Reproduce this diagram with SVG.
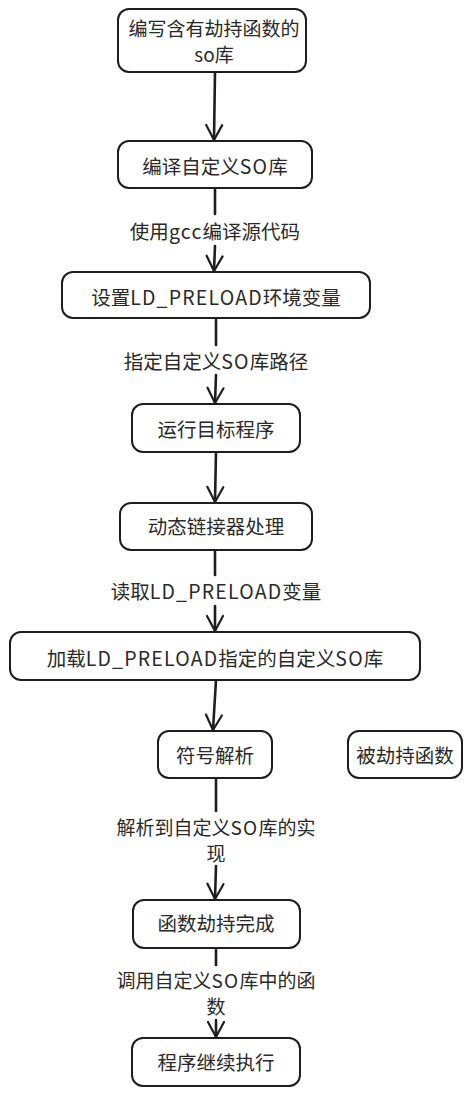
<svg xmlns="http://www.w3.org/2000/svg" width="473" height="1096" viewBox="0 0 473 1096">
<defs>
<style>
.n rect{fill:#fff;stroke:#1e1e1e;stroke-width:2}
text{font-family:"Noto Sans CJK SC","Liberation Sans",sans-serif;font-size:19.5px;fill:#2a2a2a;text-anchor:middle;dominant-baseline:central}
.t{font-size:19px}
.l{letter-spacing:1.2px}
.c path{fill:none;stroke:#1e1e1e;stroke-width:2.6;stroke-linecap:round}
</style>
<marker id="ah" markerUnits="userSpaceOnUse" markerWidth="30" markerHeight="30" refX="15" refY="15" orient="auto" overflow="visible">
<path d="M0,7 L15,15 L0,23" fill="none" stroke="#1e1e1e" stroke-width="2.2" stroke-linecap="round" stroke-linejoin="round"/>
</marker>
</defs>
<rect width="473" height="1096" fill="#fff"/>
<g class="c" id="connectors">
<path d="M215,72 L214,140" marker-end="url(#ah)"/>
<path d="M215,188 L215,214"/>
<path d="M215,246 L214,271" marker-end="url(#ah)"/>
<path d="M216,318 L216,345"/>
<path d="M216,375 L215,403" marker-end="url(#ah)"/>
<path d="M216,452 L215,502" marker-end="url(#ah)"/>
<path d="M215,550 L215,575"/>
<path d="M215,606 L215,631" marker-end="url(#ah)"/>
<path d="M216,680 L213,730" marker-end="url(#ah)"/>
<path d="M216,778 L216,811"/>
<path d="M216,866 L215,899" marker-end="url(#ah)"/>
<path d="M216,948 L216,965"/>
<path d="M216,1020 L216,1037" marker-end="url(#ah)"/>
</g>
<g class="n" id="n1"><rect x="118" y="9" width="188" height="63" rx="11"/><text class="t" x="214" y="27">编写含有劫持函数的</text><text class="t" x="214" y="53">so库</text></g>
<g class="n" id="n2"><rect x="118" y="141" width="194" height="47" rx="11"/><text x="215" y="165">编译自定义<tspan class="l">SO</tspan>库</text></g>
<g id="l1"><text x="215" y="230">使用<tspan class="l">gcc</tspan>编译源代码</text></g>
<g class="n" id="n3"><rect x="62" y="272" width="308" height="46" rx="11"/><text x="216" y="296">设置<tspan class="l">LD_PRELOAD</tspan>环境变量</text></g>
<g id="l2"><text x="216" y="360">指定自定义<tspan class="l">SO</tspan>库路径</text></g>
<g class="n" id="n4"><rect x="132" y="404" width="168" height="48" rx="11"/><text x="216" y="428">运行目标程序</text></g>
<g class="n" id="n5"><rect x="120" y="503" width="192" height="47" rx="11"/><text x="216" y="525">动态链接器处理</text></g>
<g id="l3"><text x="216" y="590">读取<tspan class="l">LD_PRELOAD</tspan>变量</text></g>
<g class="n" id="n6"><rect x="10" y="632" width="410" height="48" rx="11"/><text x="215" y="657">加载<tspan class="l">LD_PRELOAD</tspan>指定的自定义<tspan class="l">SO</tspan>库</text></g>
<g class="n" id="n7"><rect x="158" y="731" width="114" height="47" rx="11"/><text x="215" y="754">符号解析</text></g>
<g class="n" id="n8"><rect x="348" y="731" width="114" height="47" rx="11"/><text x="405" y="754">被劫持函数</text></g>
<g id="l4"><text class="t" x="216" y="826">解析到自定义<tspan class="l">SO</tspan>库的实</text><text class="t" x="216" y="852">现</text></g>
<g class="n" id="n9"><rect x="133" y="900" width="167" height="48" rx="11"/><text x="216" y="922">函数劫持完成</text></g>
<g id="l5"><text class="t" x="216" y="979">调用自定义<tspan class="l">SO</tspan>库中的函</text><text class="t" x="216" y="1005">数</text></g>
<g class="n" id="n10"><rect x="132" y="1038" width="168" height="48" rx="11"/><text x="216" y="1061">程序继续执行</text></g>
</svg>
